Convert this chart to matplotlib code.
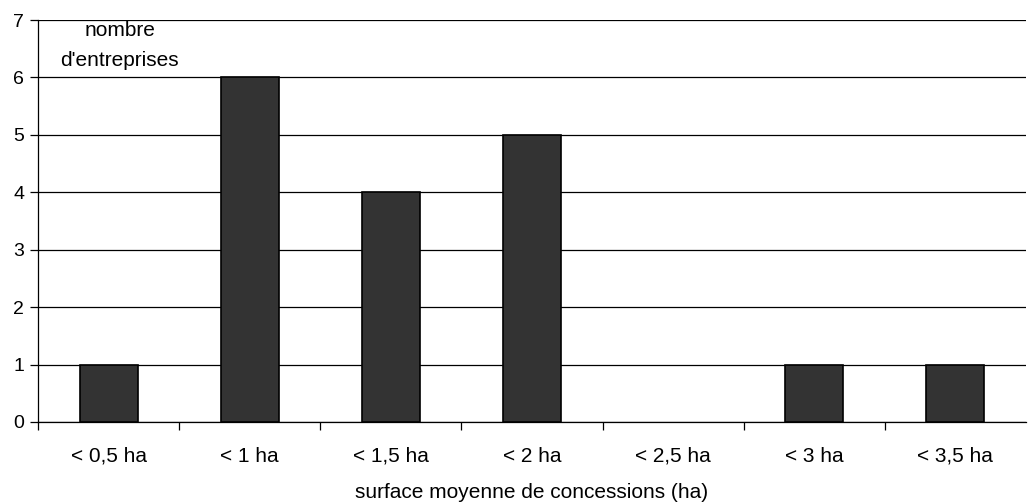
import numpy as np
import matplotlib
matplotlib.use("Agg")
import matplotlib.pyplot as plt

plt.rcParams["font.family"] = ["Liberation Sans", "DejaVu Sans"]

categories = ["< 0,5 ha", "< 1 ha", "< 1,5 ha", "< 2 ha", "< 2,5 ha", "< 3 ha", "< 3,5 ha"]
counts = [1, 6, 4, 5, 0, 1, 1]
y_ticks = [0, 1, 2, 3, 4, 5, 6, 7]

fs = 15

fig = plt.figure(figsize=(10.31, 5.04), dpi=100)
ax = fig.add_axes([38 / 1031, 82 / 504, (1026 - 38) / 1031, (422 - 20) / 504])

x = np.arange(len(categories))
bars = ax.bar(x, counts, width=0.41, color="#333333", edgecolor="black", linewidth=1.2, zorder=3)
for b, c in zip(bars, counts):
    if c == 0:
        b.set_visible(False)

ax.set_xlim(-0.5, len(categories) - 0.5)
ax.set_ylim(0, 7)
ax.set_yticks(y_ticks)
for y in y_ticks:
    ax.axhline(y, color="black", linewidth=0.9, zorder=1)

# category labels centred, tick marks on the boundaries
ax.set_xticks(np.arange(-0.5, len(categories) - 0.5, 1.0))
ax.set_xticklabels([])
ax.set_xticks(x, minor=True)
ax.set_xticklabels(categories, minor=True, fontsize=fs)
ax.tick_params(axis="x", which="major", direction="out", length=6, width=0.9)
ax.tick_params(axis="x", which="minor", length=0, pad=18)
ax.tick_params(axis="y", direction="out", length=6, width=0.9, labelsize=14, pad=4)

for s in ["top", "right"]:
    ax.spines[s].set_visible(False)
ax.spines["left"].set_linewidth(0.9)
ax.spines["bottom"].set_linewidth(0.9)

ax.text(0.08, 6.55, "nombre\nd'entreprises", ha="center", va="center",
        fontsize=fs, linespacing=1.75)
fig.text((38 + 1026) / 2 / 1031, 12 / 504, "surface moyenne de concessions (ha)",
         ha="center", va="center", fontsize=fs)

fig.savefig("out.png", dpi=100)
plt.close(fig)
